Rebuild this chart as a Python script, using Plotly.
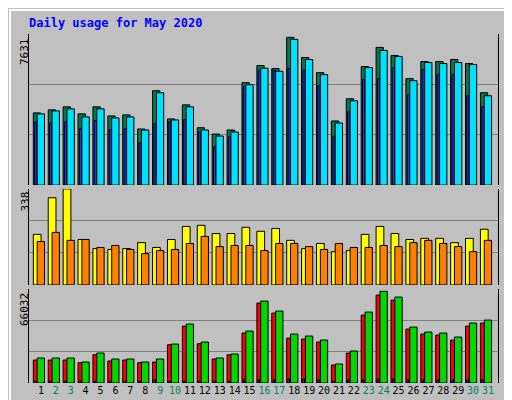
import plotly.graph_objects as go

days = list(range(1, 32))
weekend = [2, 3, 9, 10, 16, 17, 23, 24, 30, 31]

hits = [3647, 3800, 3953, 3597, 3953, 3495, 3546, 2834, 4767, 3342, 4054, 2900, 2579, 2783, 5174, 6038,
        5886, 7463, 6445, 5682, 3240, 4360, 5987, 6954, 6547, 5377, 6242, 6242, 6344, 6140, 4665]
files = [3597, 3749, 3851, 3444, 3851, 3393, 3444, 2783, 4665, 3291, 3953, 2783, 2477, 2681, 5072, 5901,
         5748, 7361, 6344, 5580, 3139, 4258, 5937, 6801, 6496, 5275, 6191, 6140, 6191, 6089, 4512]
pages = [3190, 3139, 3190, 2849, 3256, 2798, 2849, 2137, 3103, 3205, 3307, 2696, 1933, 2442, 4985, 5799,
         5799, 5886, 5799, 5021, 2477, 3698, 5326, 5377, 5937, 4563, 5835, 5580, 5580, 4512, 3953]
visits = [178, 307, 338, 160, 128, 125, 128, 149, 132, 160, 206, 210, 181, 181, 203, 189,
          199, 157, 128, 146, 117, 121, 178, 206, 181, 160, 164, 164, 149, 164, 196]
sites = [153, 185, 157, 160, 132, 139, 125, 110, 121, 125, 146, 171, 135, 139, 139, 121,
         146, 146, 135, 125, 146, 132, 132, 139, 135, 149, 157, 146, 135, 117, 157]
kb_f = [16157, 16157, 16157, 14260, 19880, 15455, 16157, 14260, 14752, 26905, 40042, 27608, 16860, 19880, 35125, 56200,
        49175, 31612, 30910, 28802, 12645, 21075, 47770, 61820, 58307, 37935, 34422, 33720, 30207, 40042, 42150]
kb_out = [17562, 17562, 17562, 14752, 21075, 16860, 16860, 14752, 16860, 27397, 41447, 28802, 17562, 20372, 36530, 57605,
          50580, 34422, 33017, 30207, 13347, 22480, 49877, 64500, 60415, 39340, 35827, 35125, 32315, 42150, 44257]
kb_in = [1300, 1300, 1300, 1300, 1300, 1300, 1300, 1300, 2300, 1300, 1300, 1300, 1300, 1300, 2300, 2300,
         2300, 2800, 2800, 2300, 1300, 2300, 2300, 2800, 2800, 2300, 2300, 2300, 2300, 2300, 2300]

max_hits, max_visits, max_kb = 7631, 338, 66032

fig = go.Figure()

def bars(vals, color, base_off, width, axis):
    fig.add_trace(go.Bar(x=days, y=vals, offset=base_off, width=width, marker_color=color,
                         marker_line_color="black", marker_line_width=1, yaxis=axis, xaxis="x"))

# top panel
bars(hits, "#007850", -0.51, 0.49, "y")
bars(pages, "#0040ff", -0.42, 0.15, "y")
bars(files, "#00e0ff", -0.25, 0.49, "y")
# middle
bars(visits, "#ffff00", -0.51, 0.52, "y2")
bars(sites, "#ff8000", -0.25, 0.49, "y2")
# bottom
bars(kb_f, "#ff0000", -0.51, 0.32, "y3")
bars(kb_in, "#0080ff", -0.42, 0.1, "y3")
bars(kb_out, "#00d800", -0.25, 0.49, "y3")

def yax(domain, mx):
    return dict(domain=domain, range=[0, mx], tickvals=[mx / 3, 2 * mx / 3], showticklabels=False,
                showgrid=True, gridcolor="#808080", gridwidth=1, zeroline=False, ticks="",
                showline=True, linecolor="black", linewidth=1, mirror=True, fixedrange=True)

ticktext = [f"<span style='color:{'#008060' if d in weekend else 'black'}'>{d}</span>" for d in days]

fig.update_layout(
    width=512, height=400, barmode="overlay", showlegend=False,
    margin=dict(l=21, r=22, t=26, b=25),
    paper_bgcolor="#c0c0c0", plot_bgcolor="#c0c0c0",
    font=dict(family="DejaVu Sans Mono", size=11, color="black"),
    xaxis=dict(range=[0.2, 31.67], tickvals=days, ticktext=ticktext, showgrid=False, zeroline=False,
               ticks="", anchor="y3", tickangle=0, tickfont=dict(size=10)),
    yaxis=yax([0.567, 1], max_hits),
    yaxis2=yax([0.281, 0.556], max_visits),
    yaxis3=yax([0, 0.269], max_kb),
)

def px_x(p):
    return (p - 21) / 469

def px_y(p):
    return (375 - p) / 349

# outer frame
fig.add_shape(type="rect", xref="paper", yref="paper", x0=px_x(2), x1=px_x(508), y0=px_y(396), y1=px_y(2),
              line=dict(color="white", width=2), layer="below")
fig.add_shape(type="line", xref="paper", yref="paper", x0=px_x(2), x1=px_x(509), y0=px_y(397), y1=px_y(397),
              line=dict(color="#606060", width=2))
fig.add_shape(type="line", xref="paper", yref="paper", x0=px_x(509), x1=px_x(509), y0=px_y(397), y1=px_y(3),
              line=dict(color="#606060", width=2))

fig.add_annotation(text="<b>Daily usage for May 2020</b>", xref="paper", yref="paper", x=px_x(19), y=px_y(15),
                   xanchor="left", yanchor="middle", showarrow=False, font=dict(color="#0000ff", size=12))

for lab, top in [(str(max_hits), 28), (str(max_visits), 182), (str(max_kb), 283)]:
    fig.add_annotation(text=lab, xref="paper", yref="paper", x=px_x(8), y=px_y(top), textangle=-90,
                       xanchor="left", yanchor="top", showarrow=False, font=dict(size=11))

right_labels = [
    ("<span style='color:#00c8e0'>Pages</span> / <span style='color:#008060'>Files</span> / "
     "<span style='color:#007850'>Hits</span>", 101),
    ("<span style='color:#ff8000'>Sites</span> / <span style='color:#e0e000'>Visits</span>", 229),
    ("<span style='color:#ff0000'>kB F</span> / <span style='color:#0080ff'>kB In</span> / "
     "<span style='color:#00c000'>kB Out</span>", 328),
]
for lab, mid in right_labels:
    fig.add_annotation(text=lab, xref="paper", yref="paper", x=px_x(493), y=px_y(mid), textangle=-90,
                       xanchor="left", yanchor="middle", showarrow=False, font=dict(size=11))

fig.write_html("out.html")
